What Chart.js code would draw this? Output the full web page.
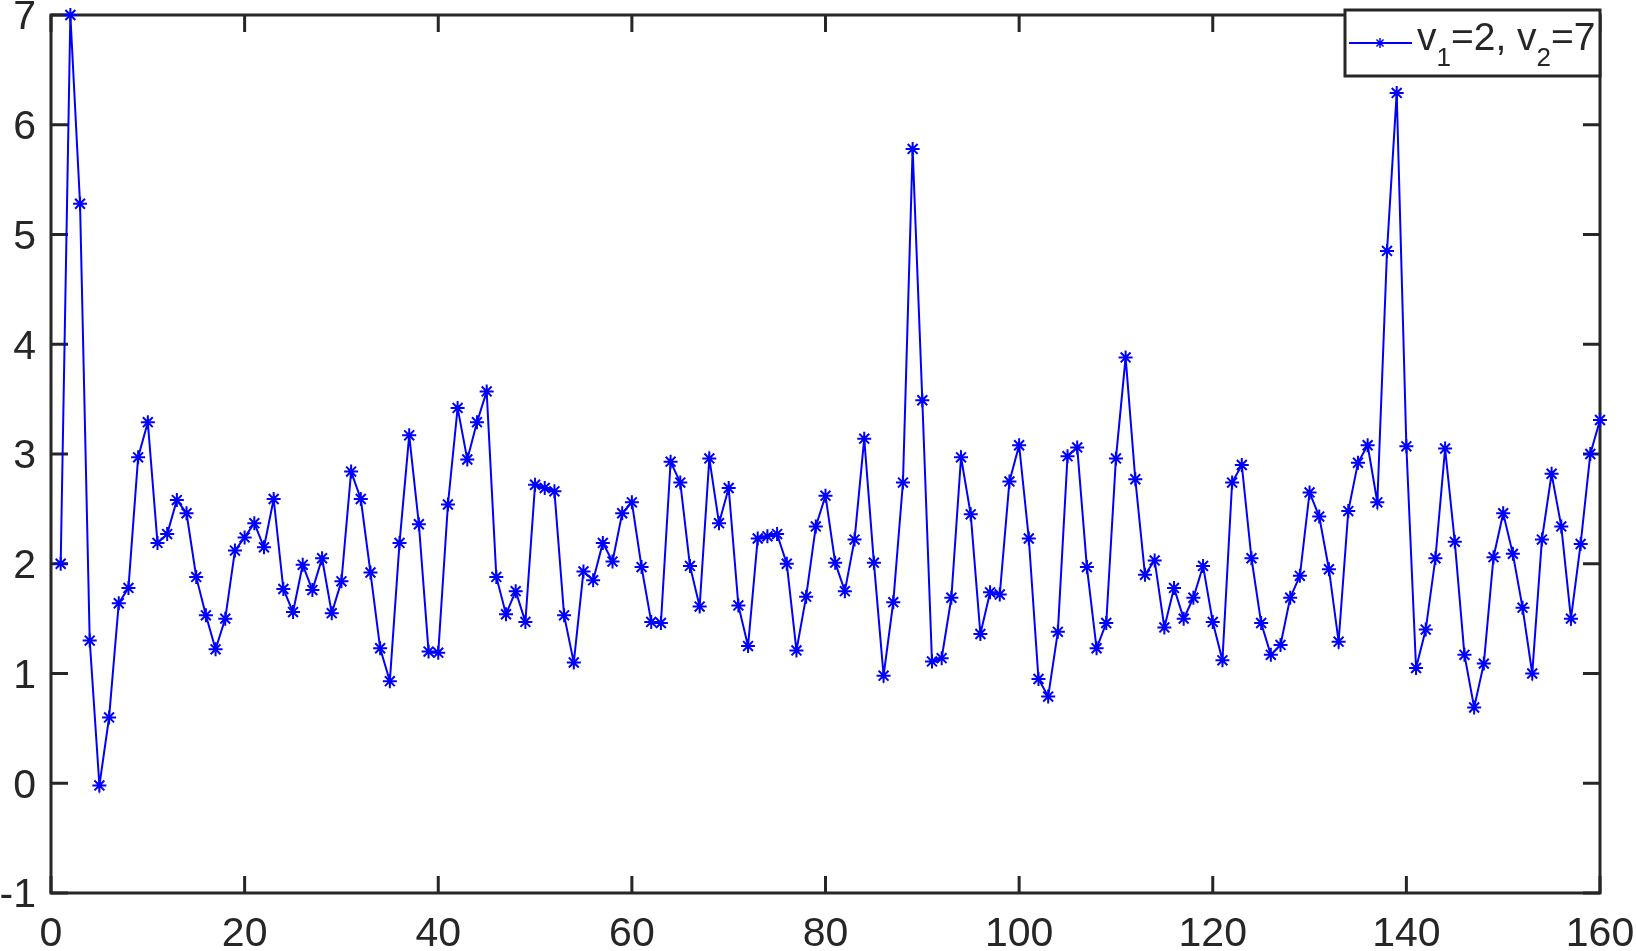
<!DOCTYPE html>
<html>
<head>
<meta charset="utf-8">
<script src="https://cdn.jsdelivr.net/npm/chart.js@4"></script>
<style>
  html, body { margin: 0; padding: 0; background: #fff; }
  #wrap { width: 1636px; height: 951px; }
</style>
</head>
<body>
<div id="wrap"><canvas id="chart"></canvas></div>
<script>
// values for x = 1..160
const values = [
  2.00, 7.00, 5.28, 1.30, -0.02, 0.60, 1.64, 1.78, 2.97, 3.29,
  2.19, 2.27, 2.58, 2.46, 1.88, 1.53, 1.22, 1.50, 2.12, 2.24,
  2.37, 2.15, 2.59, 1.77, 1.56, 1.99, 1.76, 2.05, 1.55, 1.84,
  2.84, 2.59, 1.92, 1.23, 0.93, 2.19, 3.17, 2.36, 1.20, 1.19,
  2.54, 3.42, 2.95, 3.29, 3.57, 1.88, 1.54, 1.75, 1.47, 2.72,
  2.69, 2.66, 1.53, 1.10, 1.93, 1.85, 2.19, 2.02, 2.46, 2.56,
  1.97, 1.47, 1.46, 2.93, 2.74, 1.98, 1.61, 2.96, 2.37, 2.69,
  1.62, 1.25, 2.23, 2.25, 2.27, 2.00, 1.21, 1.70, 2.34, 2.62,
  2.01, 1.75, 2.22, 3.14, 2.01, 0.98, 1.65, 2.74, 5.78, 3.49,
  1.11, 1.14, 1.69, 2.97, 2.45, 1.36, 1.74, 1.72, 2.75, 3.08,
  2.23, 0.95, 0.79, 1.38, 2.98, 3.06, 1.97, 1.23, 1.46, 2.96,
  3.88, 2.77, 1.90, 2.03, 1.42, 1.78, 1.50, 1.69, 1.98, 1.47,
  1.12, 2.74, 2.90, 2.05, 1.46, 1.17, 1.26, 1.69, 1.89, 2.65,
  2.43, 1.95, 1.29, 2.48, 2.92, 3.08, 2.56, 4.85, 6.29, 3.07,
  1.05, 1.40, 2.05, 3.05, 2.20, 1.17, 0.69, 1.09, 2.06, 2.46,
  2.09, 1.60, 1.00, 2.22, 2.82, 2.34, 1.50, 2.18, 3.00, 3.31
];

const xTicks = [0, 20, 40, 60, 80, 100, 120, 140, 160];
const yTicks = [-1, 0, 1, 2, 3, 4, 5, 6, 7];

// legend text pieces: main, subscript, main, subscript, main
const legendParts = [['v', false], ['1', true], ['=2, v', false], ['2', true], ['=7', false]];

const lineColor = '#0000ff';
const axisColor = '#262626';
const fontFamily = 'Arial, "Liberation Sans", Helvetica, sans-serif';

const points = values.map((v, i) => ({ x: i + 1, y: v }));

// frame and inward tick marks like MATLAB
const boxPlugin = {
  id: 'box',
  beforeDatasetsDraw(chart) {
    const { ctx, chartArea: a, scales: { x, y } } = chart;
    const len = 17;
    ctx.save();
    ctx.strokeStyle = axisColor;
    ctx.lineWidth = 3;
    ctx.beginPath();
    xTicks.forEach(t => {
      const px = x.getPixelForValue(t);
      ctx.moveTo(px, a.bottom); ctx.lineTo(px, a.bottom - len);
      ctx.moveTo(px, a.top); ctx.lineTo(px, a.top + len);
    });
    yTicks.forEach(t => {
      const py = y.getPixelForValue(t);
      ctx.moveTo(a.left, py); ctx.lineTo(a.left + len, py);
      ctx.moveTo(a.right, py); ctx.lineTo(a.right - len, py);
    });
    ctx.stroke();
    ctx.lineJoin = 'miter';
    ctx.strokeRect(a.left, a.top, a.right - a.left, a.bottom - a.top);
    ctx.restore();
  },
  afterDatasetsDraw(chart) {
    const { ctx, chartArea: a } = chart;
    const bx = 1345, by = 10, bw = a.right - 1345, bh = 66;
    ctx.save();
    ctx.fillStyle = '#fff';
    ctx.fillRect(bx, by, bw, bh);
    ctx.strokeStyle = axisColor;
    ctx.lineWidth = 3;
    ctx.strokeRect(bx, by, bw, bh);

    // sample line with star marker
    ctx.strokeStyle = lineColor;
    ctx.lineWidth = 2;
    ctx.beginPath();
    ctx.moveTo(1349, 43); ctx.lineTo(1412, 43);
    ctx.stroke();
    ctx.lineWidth = 1.5;
    ctx.beginPath();
    const r = 5, cx = 1380, cy = 43;
    for (let k = 0; k < 4; k++) {
      const ang = k * Math.PI / 4;
      ctx.moveTo(cx - r * Math.cos(ang), cy - r * Math.sin(ang));
      ctx.lineTo(cx + r * Math.cos(ang), cy + r * Math.sin(ang));
    }
    ctx.stroke();

    ctx.fillStyle = axisColor;
    ctx.textBaseline = 'alphabetic';
    let tx = 1417;
    legendParts.forEach(([txt, sub]) => {
      ctx.font = (sub ? '26px ' : '39px ') + fontFamily;
      ctx.fillText(txt, tx, sub ? 66 : 50);
      tx += ctx.measureText(txt).width;
    });
    ctx.restore();
  }
};

new Chart(document.getElementById('chart'), {
  type: 'line',
  data: {
    datasets: [{
      label: 'v1=2, v2=7',
      data: points,
      borderColor: lineColor,
      backgroundColor: lineColor,
      borderWidth: 2,
      tension: 0,
      pointStyle: 'star',
      pointRadius: 7,
      pointBorderWidth: 2,
      pointBorderColor: lineColor,
      clip: false
    }]
  },
  options: {
    responsive: true,
    maintainAspectRatio: false,
    animation: false,
    events: [],
    layout: { padding: { top: 15, right: 36, left: 0, bottom: 0 } },
    plugins: {
      legend: { display: false },
      tooltip: { enabled: false }
    },
    scales: {
      x: {
        type: 'linear',
        min: 0,
        max: 160,
        afterBuildTicks: s => { s.ticks = xTicks.map(v => ({ value: v })); },
        afterFit: s => { s.height = 58; s.paddingLeft = 0; s.paddingRight = 0; },
        grid: { display: false, drawTicks: false },
        border: { display: false },
        ticks: {
          color: axisColor,
          padding: 17,
          maxRotation: 0,
          font: { family: fontFamily, size: 41 }
        }
      },
      y: {
        type: 'linear',
        min: -1,
        max: 7,
        afterBuildTicks: s => { s.ticks = yTicks.map(v => ({ value: v })); },
        afterFit: s => { s.width = 51; s.paddingTop = 0; s.paddingBottom = 0; },
        grid: { display: false, drawTicks: false },
        border: { display: false },
        ticks: {
          color: axisColor,
          padding: 15,
          labelOffset: 3,
          font: { family: fontFamily, size: 41 }
        }
      }
    }
  },
  plugins: [boxPlugin]
});
</script>
</body>
</html>
